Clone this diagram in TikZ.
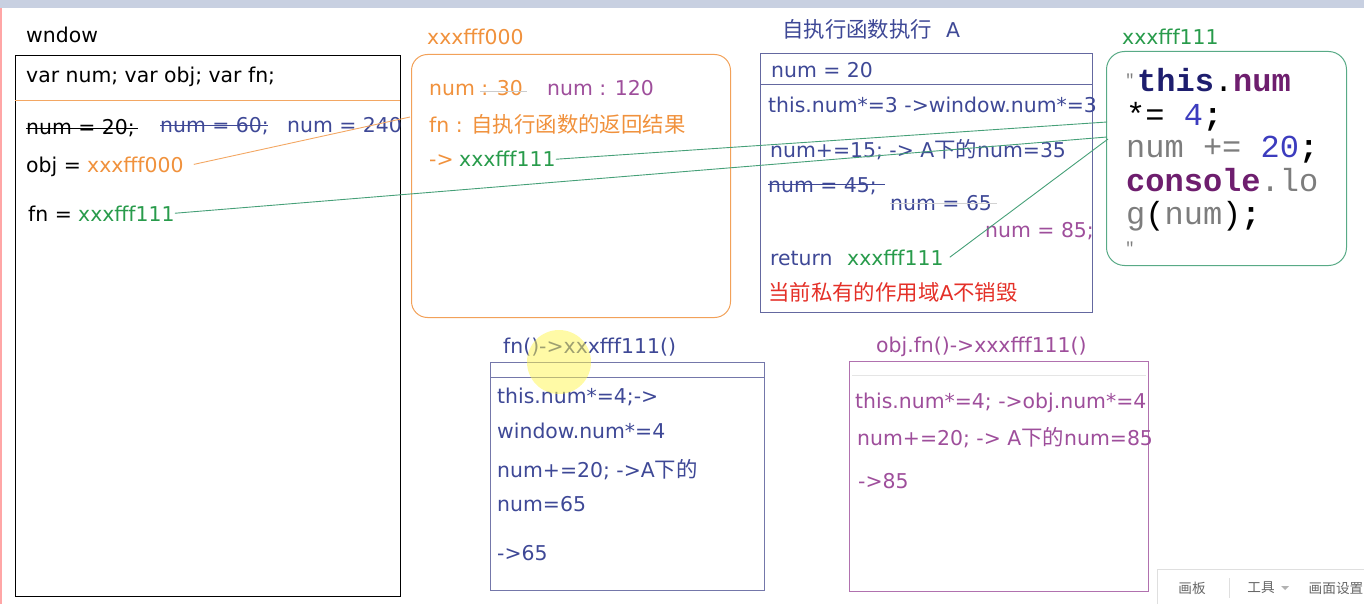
\documentclass[tikz,border=0pt]{standalone}
\usepackage{fontspec}
\setmainfont{DejaVu Sans}
\newfontfamily\cjk[Scale=1.05]{Noto Sans CJK SC}
\newfontfamily\codefont{Liberation Mono}
\usepackage{tikz}
\usetikzlibrary{positioning}
\definecolor{blauT}{RGB}{62,72,150}
\definecolor{orangeT}{RGB}{240,145,60}
\definecolor{gruenT}{RGB}{40,155,75}
\definecolor{gruenL}{RGB}{70,160,120}
\definecolor{lilaT}{RGB}{158,78,155}
\definecolor{rotT}{RGB}{228,48,40}
\definecolor{graublau}{RGB}{100,104,160}
\definecolor{navyC}{RGB}{30,30,110}
\definecolor{lilaC}{RGB}{110,30,110}
\definecolor{grauC}{RGB}{125,125,125}
\definecolor{blauC}{RGB}{60,60,190}
\definecolor{leiste}{RGB}{200,208,225}
\newcommand{\zh}[1]{{\cjk #1}}

\begin{document}
\begin{tikzpicture}[x=1pt, y=-1pt,
  txt/.style={anchor=base west, inner sep=0pt, font=\fontsize{20.4}{24}\selectfont},
  code/.style={anchor=base west, inner sep=0pt, font=\codefont\fontsize{32}{34}\selectfont},
  box/.style={draw, anchor=north west, inner sep=0pt, line width=1pt},
  strich/.style={line width=0.9pt},
  link/.style={line width=0.9pt, gruenL}
]
\useasboundingbox (0,0) rectangle (1364,604);

% Leiste oben, Rand links
\fill[leiste] (0,0) rectangle (1364,8);
\draw[red!35, line width=1.5pt] (1,8) -- (1,604);

% window
\node[txt] (wtitel) at (26,43) {wndow};
\node[box, line width=1.2pt, minimum width=385pt, minimum height=541pt] (win) at (15,55) {};
\draw[orangeT!80] (15,100) -- (400,100);
\node[txt] (wvar) at (26,83) {var num; var obj; var fn;};
\node[txt] (n20) at (26,135) {num = 20;};
\draw[strich] (26,128) -- (138,128);
\node[txt, blauT] (n60) at (160,133) {num = 60;};
\draw[strich, blauT] (160,125) -- (268,125);
\node[txt, blauT] (n240) at (287,133) {num = 240};
\node[txt] (objkey) at (26,172) {obj =};
\node[txt, orangeT] (objval) at (87,172) {xxxfff000};
\node[txt] (fnkey) at (28,221) {fn =};
\node[txt, gruenT] (fnval) at (78,221) {xxxfff111};

% Heap xxxfff000
\node[txt, orangeT] (t000) at (427,45) {xxxfff000};
\node[box, orangeT!85, rounded corners=16pt, minimum width=319pt, minimum height=263pt] (h000) at (411,54) {};
\node[txt, orangeT] (o30) at (429,96) {num : 30};
\draw[strich, gray!40] (480,91) -- (527,91);
\node[txt, lilaT] (o120) at (547,96) {num : 120};
\node[txt, orangeT] (ofn) at (429,133) {fn : \zh{自执行函数的返回结果}};
\node[txt, orangeT] (opfeil) at (429,167) {->};
\node[txt, gruenT] (oval) at (459,167) {xxxfff111};

% Scope A
\node[txt, blauT] (tA) at (782,38) {\zh{自执行函数执行}\hspace{14pt}A};
\node[box, graublau, minimum width=332pt, minimum height=259pt] (boxA) at (760,53) {};
\draw[graublau] (760,84) -- (1092,84);
\node[txt, blauT] (a20) at (771,78) {num = 20};
\node[txt, blauT] (a3) at (768,113) {this.num*=3 ->window.num*=3};
\node[txt, blauT] (a15) at (770,158) {num+=15; -> A\zh{下的}num=35};
\node[txt, blauT] (a45) at (768,193) {num = 45;};
\draw[strich, blauT] (768,184) -- (885,184);
\node[txt, blauT] (a65) at (890,210) {num = 65};
\draw[strich, gray!35] (890,203) -- (997,203);
\node[txt, lilaT] (a85) at (985,237) {num = 85;};
\node[txt, blauT] (aret) at (770,265) {return};
\node[txt, gruenT] (retval) at (847,265) {xxxfff111};
\node[txt, rotT] (arot) at (768,300) {\zh{当前私有的作用域}A\zh{不销毁}};

% Heap xxxfff111
\node[txt, gruenT] (t111) at (1122,45) {xxxfff111};
\node[box, gruenL!90, rounded corners=18pt, minimum width=240pt, minimum height=214pt] (h111) at (1106,51) {};
\node[inner sep=0pt, grauC, font=\codefont\fontsize{16}{16}\selectfont] (q1) at (1130,80) {\char"22};
\node[code] (c1) at (1137,92) {\textbf{\color{navyC}this}.\textbf{\color{lilaC}num}};
\node[code] (c2) at (1126,126) {*= {\color{blauC}4}\textbf{;}};
\node[code, grauC] (c3) at (1126,158) {num += {\color{blauC}20}{\color{black}\textbf{;}}};
\node[code] (c4) at (1126,192) {\textbf{\color{lilaC}console}{\color{grauC}.lo}};
\node[code] (c5) at (1126,224) {{\color{grauC}g}(\color{grauC}num\color{black})\textbf{;}};
\node[inner sep=0pt, grauC, font=\codefont\fontsize{16}{16}\selectfont] (q2) at (1130,248) {\char"22};

% Verbindungen
\coordinate (e000) at (410,117);
\coordinate (e111a) at (1107,122);
\coordinate (e111b) at (1107,137);
\coordinate (e111c) at (1108,139);
\draw[orangeT!80, line width=0.9pt] ([xshift=10pt]objval.east) -- (e000);
\draw[link] (fnval.east) -- (e111b);
\draw[link] (oval.east) -- (e111a);
\draw[link] ([xshift=6pt]retval.east) -- (e111c);

% fn()
\node[txt, blauT] (tfn) at (503,353) {fn()->xxxfff111()};
\node[box, graublau!90, minimum width=274pt, minimum height=228pt] (boxfn) at (490,362) {};
\draw[graublau!90] (490,377) -- (764,377);
\node[txt, blauT] (f1) at (497,403) {this.num*=4;->};
\node[txt, blauT] (f2) at (497,438) {window.num*=4};
\node[txt, blauT] (f3) at (497,477) {num+=20; ->A\zh{下的}};
\node[txt, blauT] (f4) at (497,511) {num=65};
\node[txt, blauT] (f5) at (497,560) {->65};
\fill[yellow!70, opacity=0.5] (559,362) circle (32);

% obj.fn()
\node[txt, lilaT] (tobj) at (876,352) {obj.fn()->xxxfff111()};
\node[box, lilaT!80, minimum width=299pt, minimum height=230pt] (boxobj) at (849,361) {};
\draw[gray!20] (852,375) -- (1146,375);
\node[txt, lilaT] (b1) at (855,408) {this.num*=4; ->obj.num*=4};
\node[txt, lilaT] (b2) at (857,445) {num+=20; -> A\zh{下的}num=85};
\node[txt, lilaT] (b3) at (858,488) {->85};

% Werkzeugleiste
\draw[gray!25, fill=white] (1157,569) rectangle (1375,612);
\node[font=\cjk\fontsize{13}{15}\selectfont, gray!80!black] (k1) at (1192,588) {画板};
\draw[gray!25] (1229,578) -- (1229,598);
\node[font=\cjk\fontsize{13}{15}\selectfont, gray!80!black] (k2) at (1261,588) {工具};
\fill[gray!60] (1281,586) -- (1289,586) -- (1285,590) -- cycle;
\node[font=\cjk\fontsize{13}{15}\selectfont, gray!80!black] (k3) at (1336,588) {画面设置};

\end{tikzpicture}
\end{document}
